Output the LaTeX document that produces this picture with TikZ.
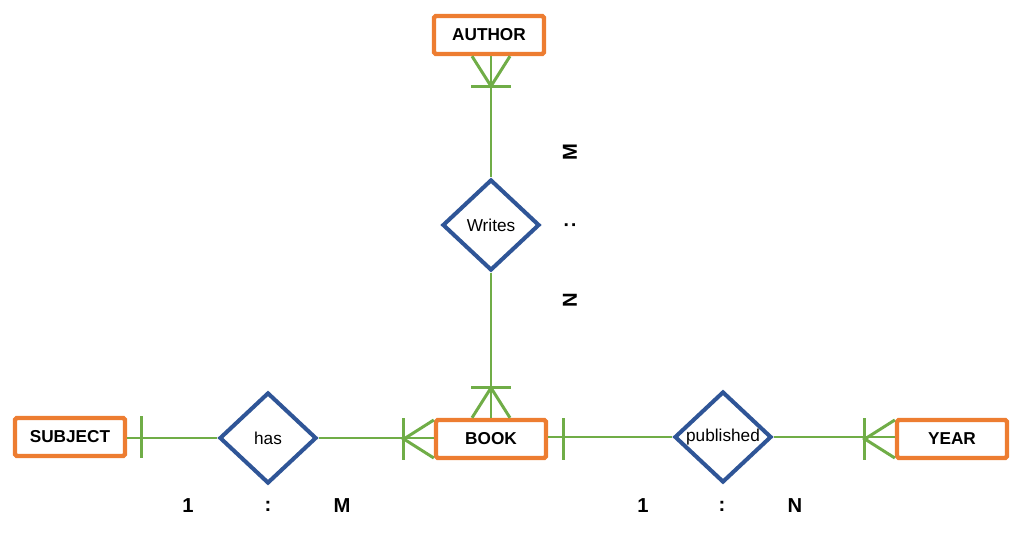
\documentclass[tikz,border=0pt]{standalone}
\usepackage{fontspec}
\setmainfont{Liberation Sans}
\usetikzlibrary{shapes.geometric}

\definecolor{entorange}{HTML}{ED7D31}
\definecolor{relblue}{HTML}{2F5597}
\definecolor{linkgreen}{HTML}{70AD47}

\begin{document}
\begin{tikzpicture}[x=0.02cm,y=-0.02cm,
    entity/.style={draw=entorange,line width=2.5pt,rounded corners=1pt,fill=white,minimum width=2.2cm,minimum height=0.76cm,inner sep=0pt,font=\fontsize{9.8}{12}\selectfont\bfseries},
    relation/.style={diamond,draw=relblue,line width=2.3pt,fill=white,minimum width=1.94cm,minimum height=1.82cm,inner sep=0pt,font=\fontsize{9.8}{12}\selectfont},
    link/.style={draw=linkgreen,line width=1.7pt},
    card/.style={font=\fontsize{11.5}{14}\selectfont\bfseries}]
    \useasboundingbox (0,0) rectangle (1019,534);

    % entities and relations
    \node[entity] (author) at (489,35) {AUTHOR};
    \node[relation] (writes) at (491,225) {Writes};
    \node[entity] (book) at (491,439) {BOOK};
    \node[entity] (subject) at (70,437) {SUBJECT};
    \node[relation] (has) at (268,438) {has};
    \node[relation] (published) at (723,437) {published};
    \node[entity] (year) at (952,439) {YEAR};

    % links
    \draw[link] (writes.north |- author.south) -- (writes.north);
    \draw[link] (writes.south) -- (book.north);
    \draw[link] (subject.east |- has.west) -- (has.west);
    \draw[link] (has.east) -- (has.east -| book.west);
    \draw[link] (book.east |- published.west) -- (published.west);
    \draw[link] (published.east) -- (published.east -| year.west);

    % crow's feet (many)
    \draw[link] ([shift={(-19,0)}]writes.north |- author.south) -- ([shift={(0,30)}]writes.north |- author.south) -- ([shift={(19,0)}]writes.north |- author.south);
    \draw[link] ([shift={(-20,30)}]writes.north |- author.south) -- ([shift={(20,30)}]writes.north |- author.south);
    \draw[link] ([shift={(-19,0)}]book.north) -- ([shift={(0,-30)}]book.north) -- ([shift={(19,0)}]book.north);
    \draw[link] ([shift={(-20,-30)}]book.north) -- ([shift={(20,-30)}]book.north);
    \draw[link] ([shift={(0,-19)}]book.west) -- ([shift={(-30,0)}]book.west) -- ([shift={(0,19)}]book.west);
    \draw[link] ([shift={(-30,-21)}]book.west) -- ([shift={(-30,21)}]book.west);
    \draw[link] ([shift={(0,-19)}]year.west) -- ([shift={(-30,0)}]year.west) -- ([shift={(0,19)}]year.west);
    \draw[link] ([shift={(-30,-21)}]year.west) -- ([shift={(-30,21)}]year.west);

    % single bars (one)
    \draw[link] ([shift={(14,-21)}]subject.east) -- ([shift={(14,21)}]subject.east);
    \draw[link] ([shift={(15,-21)}]book.east) -- ([shift={(15,21)}]book.east);

    % cardinalities
    \node[card,rotate=90] (wm) at (570,152) {M};
    \node[card,rotate=90] (wc) at (570,225) {:};
    \node[card,rotate=90] (wn) at (570,300) {N};
    \node[card] (h1) at (188,506) {1};
    \node[card] (hc) at (268,506) {:};
    \node[card] (hm) at (342,506) {M};
    \node[card] (p1) at (643,506) {1};
    \node[card] (pc) at (722,506) {:};
    \node[card] (pn) at (795,506) {N};
\end{tikzpicture}
\end{document}
